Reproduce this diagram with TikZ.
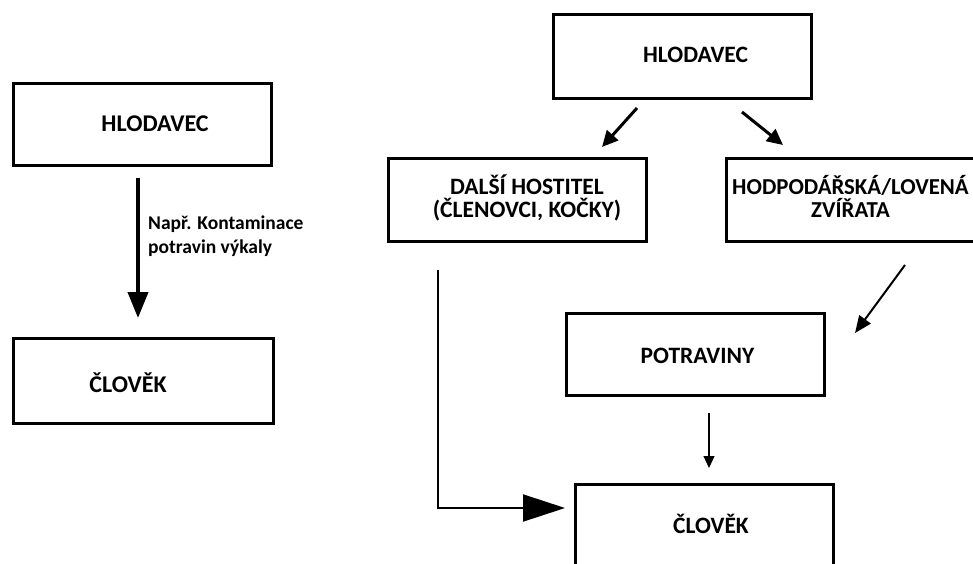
\documentclass[tikz,border=0pt]{standalone}
\usepackage{fontspec}
\setmainfont{Carlito}
\usetikzlibrary{positioning,arrows.meta}

\begin{document}
\begin{tikzpicture}[x=1pt, y=-1pt,
  box/.style={draw, line width=3pt, inner sep=0pt},
  big/.style={font=\fontsize{24}{23}\selectfont\bfseries, inner sep=0pt, anchor=base},
  med/.style={font=\fontsize{23.5}{23}\selectfont\bfseries, inner sep=0pt, anchor=base},
  note/.style={font=\fontsize{19.5}{24}\selectfont\bfseries, inner sep=0pt, align=left, anchor=west}]
\useasboundingbox (0,0) rectangle (973,564);
\clip (0,0) rectangle (973,564);

\node[box, minimum width=258pt, minimum height=82pt] (lh) at (142.5,124.5) {};
\node[box, minimum width=260pt, minimum height=85pt] (lc) at (143.5,381) {};
\node[box, minimum width=258pt, minimum height=84pt] (rh) at (682.5,56.5) {};
\node[box, minimum width=258pt, minimum height=83pt] (dh) at (517.5,200) {};
\node[box, minimum width=272pt, minimum height=83pt] (zh) at (862.5,200) {};
\node[box, minimum width=258pt, minimum height=82pt] (pot) at (695.5,354.5) {};
\node[box, minimum width=258pt, minimum height=104pt] (rc) at (704.5,536.5) {};

\node[big] (lht) at (155,132) {HLODAVEC};
\node[big] (lct) at (128,392) {ČLOVĚK};
\node[med] (rht) at (695.5,63) {HLODAVEC};
\node[med, align=center] (dht) at (527,217) {DALŠÍ HOSTITEL\\(ČLENOVCI, KOČKY)};
\node[med, align=left, anchor=base west, font=\fontsize{22.8}{23}\selectfont\bfseries] (zht) at (732,217) {HODPODÁŘSKÁ/LOVENÁ\\\hspace*{79pt}ZVÍŘATA};
\node[med] (pott) at (697.5,363) {POTRAVINY};
\node[med] (rct) at (711,533) {ČLOVĚK};
\node[note] (lbl) at (148,236) {Např. Kontaminace\\potravin výkaly};

\draw[line width=4pt, -{Triangle[length=26pt,width=20pt]}, shorten <=11pt, shorten >=19pt]
  ([xshift=-4.5pt]lh.south) -- ([xshift=-4.5pt]lh.south |- lc.north);
\draw[line width=3pt, -{Triangle[length=16pt,width=15pt]}]
  ([xshift=-45.5pt,yshift=-8pt]rh.south) -- ([xshift=84.5pt,yshift=10pt]dh.north);
\draw[line width=3pt, -{Triangle[length=16pt,width=15pt]}]
  ([xshift=59.5pt,yshift=-12pt]rh.south) -- ([xshift=58pt,yshift=12pt]zh.north west);
\draw[line width=2pt, -{Triangle[length=42pt,width=27pt]}]
  ([xshift=-79.5pt,yshift=-27pt]dh.south) |- ([xshift=-9pt,yshift=-25pt]rc.north west);
\draw[line width=1.2pt, -{Triangle[length=12pt,width=11pt]}, shorten <=16pt, shorten >=15pt]
  ([xshift=13.5pt]pot.south) -- ([xshift=13.5pt]pot.south |- rc.north);
\draw[line width=2pt, -{Triangle[length=17pt,width=14pt]}]
  ([xshift=180pt,yshift=-22pt]zh.south west) -- ([xshift=29pt,yshift=-21pt]pot.north east);
\end{tikzpicture}
\end{document}
